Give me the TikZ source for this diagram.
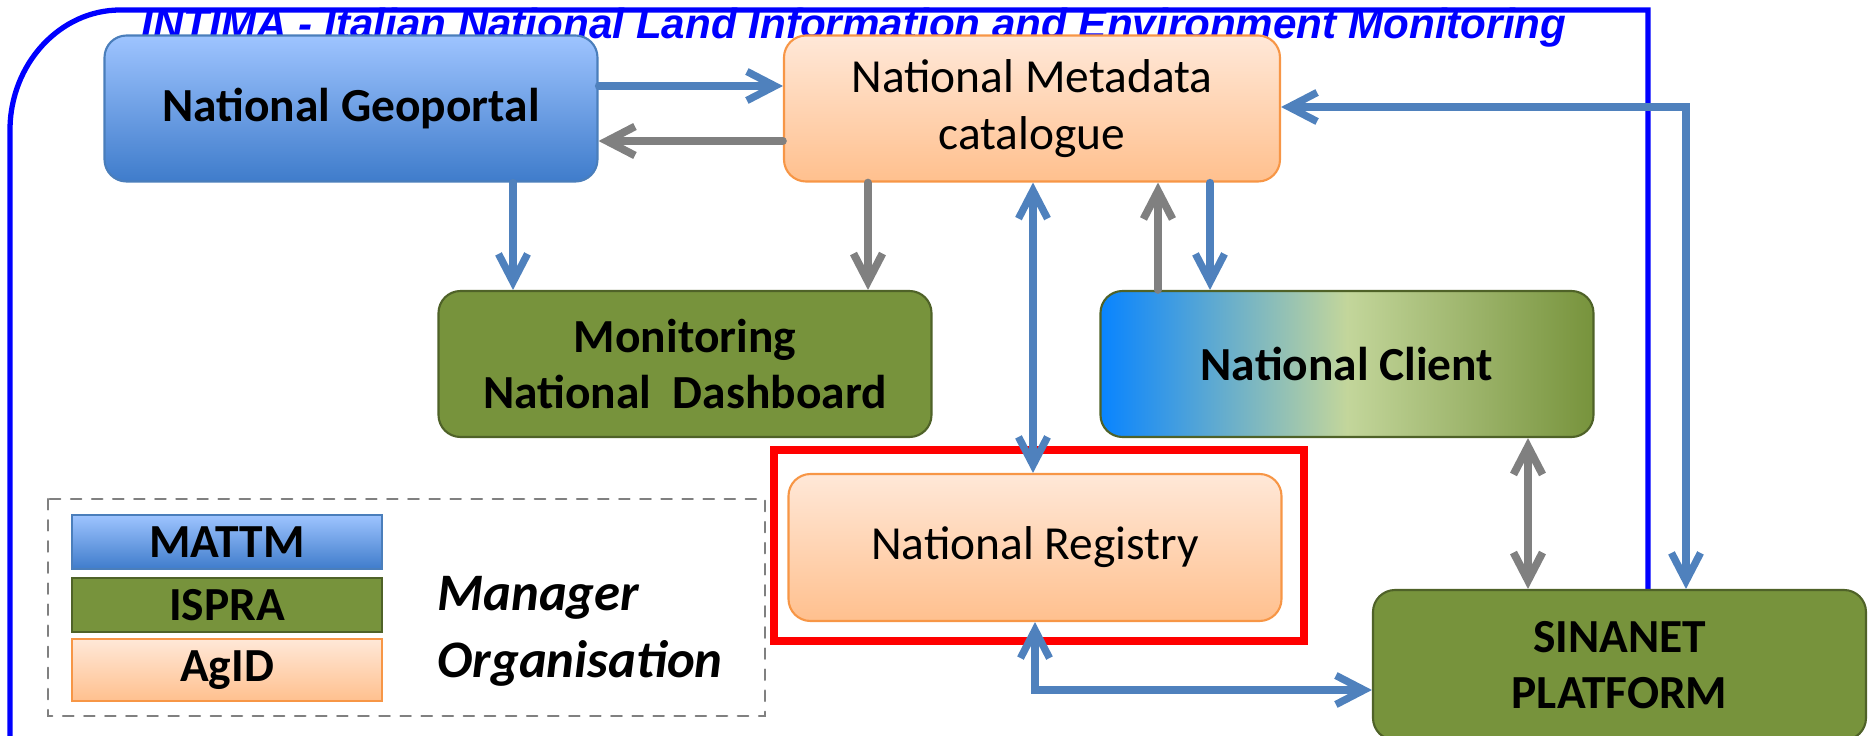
\documentclass[tikz,border=0pt]{standalone}
\usepackage{fontspec}
\setmainfont{Carlito}
\newfontfamily\titlefont{Liberation Sans}
\usepackage{tikz}
\usetikzlibrary{arrows.meta}
\definecolor{geotop}{RGB}{158,196,255}
\definecolor{geobot}{RGB}{63,124,203}
\definecolor{geoline}{RGB}{74,126,187}
\definecolor{agtop}{RGB}{255,232,216}
\definecolor{agbot}{RGB}{255,192,142}
\definecolor{agline}{RGB}{247,150,70}
\definecolor{isgreen}{RGB}{119,147,60}
\definecolor{isline}{RGB}{79,98,40}
\definecolor{clientl}{RGB}{8,132,255}
\definecolor{clientm}{RGB}{195,214,155}
\definecolor{arrblue}{RGB}{79,129,189}
\definecolor{arrgray}{RGB}{128,128,128}
\tikzset{
	mattm/.style={draw=geoline,top color=geotop,bottom color=geobot},
	ispra/.style={draw=isline,fill=isgreen},
	agid/.style={draw=agline,top color=agtop,bottom color=agbot},
	box/.style={rounded corners=0.22cm,minimum width=4.93cm,minimum height=1.46cm,align=center,line width=0.6pt,font=\fontsize{13.5}{16}\selectfont},
	bbox/.style={box,font=\fontsize{13.5}{16}\selectfont\bfseries},
	lbox/.style={minimum width=3.1cm,minimum height=0.48cm,line width=0.6pt,font=\fontsize{13.5}{16}\selectfont\bfseries},
	barr/.style={draw=arrblue,line width=2.1pt,->},
	garr/.style={draw=arrgray,line width=2.2pt,->}
}
\begin{document}
\begin{tikzpicture}[x=1cm,y=-1cm,line cap=round,>={Straight Barb[length=2.8mm,width=2.9mm]}]
	\useasboundingbox (0,0) rectangle (18.72,7.36);

	\node[anchor=base,text=blue,font=\titlefont\bfseries\itshape\fontsize{12}{14}\selectfont] (title) at (8.54,0.39) {INTIMA - Italian National Land Information and Environment Monitoring};
	\draw[blue,line width=1.5pt] (0.10,7.6) -- (0.10,1.3) .. controls (0.10,0.64) and (0.60,0.10) .. (1.2,0.10) -- (16.48,0.10) -- (16.48,5.90);

	\node[bbox,mattm] (geo) at (3.51,1.085) {National Geoportal};
	\node[box,agid,minimum width=4.96cm] (meta) at (10.32,1.085) {National Metadata\\catalogue};
	\node[bbox,ispra] (dash) at (6.85,3.64) {Monitoring\\National\ \ Dashboard};
	\node[bbox,draw=isline,left color=clientl,right color=isgreen,middle color=clientm] (client) at (13.47,3.64) {National Client};
	\node[box,agid,minimum height=1.47cm] (reg) at (10.35,5.475) {National Registry};
	\node[bbox,ispra,minimum height=1.5cm] (sin) at (16.195,6.65) {SINANET\\PLATFORM};
	\draw[red,line width=2pt] (7.74,4.50) rectangle (13.04,6.41);

	\draw[arrgray,dashed,line width=0.6pt] (0.48,4.99) rectangle (7.65,7.16);
	\node[lbox,mattm] (lmattm) at (2.27,5.42) {MATTM};
	\node[lbox,ispra] (lispra) at (2.27,6.05) {ISPRA};
	\node[lbox,agid] (lagid) at (2.27,6.70) {AgID};
	\node[anchor=west,align=left,font=\fontsize{15}{19}\selectfont\bfseries\itshape] (mgr) at (4.25,6.31) {Manager\\Organisation};

	\draw[barr] (geo.east |- 0,0.86) -- (meta.west |- 0,0.86);
	\draw[garr] (meta.west |- 0,1.41) -- (geo.east |- 0,1.41);
	\draw[barr] (geo.south -| 5.13,0) -- (dash.north -| 5.13,0);
	\draw[garr] (meta.south -| 8.68,0) -- (dash.north -| 8.68,0);
	\draw[barr,<->] (meta.south -| 10.33,0) -- (reg.north -| 10.33,0);
	\draw[garr] (client.north -| 11.58,0) -- (meta.south -| 11.58,0);
	\draw[barr] (meta.south -| 12.10,0) -- (client.north -| 12.10,0);
	\draw[garr,<->] (client.south -| 15.28,0) -- (sin.north -| 15.28,0);
	\draw[barr,<->] (meta.east |- 0,1.07) -| (sin.north -| 16.86,0);
	\draw[barr,<->] (reg.south) |- (sin.west |- 0,6.90);
\end{tikzpicture}
\end{document}
